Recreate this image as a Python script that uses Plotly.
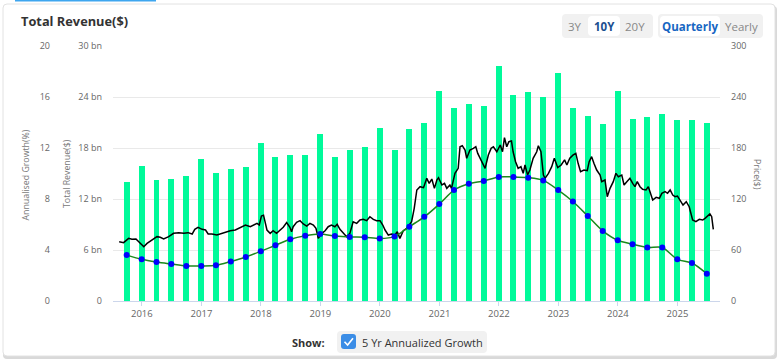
import plotly.graph_objects as go

W, H = 780, 363

# ---------------- data ----------------
quarter_ends = []
for yr in range(2015, 2026):
    for md in ["03-31", "06-30", "09-30", "12-31"]:
        d = f"{yr}-{md}"
        if "2015-09-30" <= d <= "2025-06-30":
            quarter_ends.append(d)

revenue_bn = [14.0, 15.9, 14.2, 14.4, 14.7, 16.7, 15.1, 15.5, 15.8, 18.6,
              16.9, 17.2, 17.2, 19.6, 17.0, 17.8, 18.1, 20.4, 17.8, 20.2,
              21.0, 24.7, 22.7, 23.2, 22.9, 27.6, 24.2, 24.6, 24.0, 26.8,
              22.7, 21.8, 20.8, 24.7, 21.4, 21.6, 22.0, 21.3, 21.3, 21.0]

growth_pct = [3.6, 3.27, 3.06, 2.9, 2.75, 2.75, 2.8, 3.1, 3.45, 3.9,
              4.37, 4.84, 5.12, 5.25, 5.1, 5.02, 5.0, 4.9, 5.05, 5.83,
              6.6, 7.6, 8.7, 9.2, 9.41, 9.73, 9.73, 9.67, 9.46, 8.7,
              7.8, 6.67, 5.5, 4.76, 4.45, 4.2, 4.2, 3.27, 2.98, 2.14]

price_dates = [
    "2015-08-15", "2015-09-11", "2015-10-12", "2015-11-01", "2015-11-26", "2015-12-12",
    "2016-01-13", "2016-02-02", "2016-03-03", "2016-04-03", "2016-04-23", "2016-05-14",
    "2016-06-14", "2016-07-14", "2016-08-15", "2016-09-14", "2016-10-11", "2016-11-05",
    "2016-11-21", "2016-12-11", "2017-01-05", "2017-01-26", "2017-02-11", "2017-03-06",
    "2017-04-06", "2017-04-26", "2017-05-27", "2017-06-27", "2017-07-28", "2017-08-28",
    "2017-09-28", "2017-10-28", "2017-11-18", "2017-12-08", "2017-12-22", "2018-01-04",
    "2018-01-17", "2018-02-07", "2018-02-27", "2018-03-17", "2018-04-07", "2018-04-27",
    "2018-05-18", "2018-06-08", "2018-06-28", "2018-07-08", "2018-07-18", "2018-08-08",
    "2018-08-29", "2018-09-18", "2018-10-09", "2018-10-29", "2018-11-19", "2018-12-05",
    "2018-12-19", "2019-01-10", "2019-01-30", "2019-02-18", "2019-03-10", "2019-03-31",
    "2019-04-14", "2019-05-01", "2019-05-21", "2019-06-11", "2019-07-01", "2019-07-21",
    "2019-08-12", "2019-09-01", "2019-09-21", "2019-10-12", "2019-11-01", "2019-11-22",
    "2019-12-12", "2020-01-02", "2020-01-19", "2020-02-02", "2020-02-22", "2020-03-13",
    "2020-04-03", "2020-04-17", "2020-05-03", "2020-05-24", "2020-06-14", "2020-06-30",
    "2020-07-14", "2020-07-30", "2020-08-15", "2020-09-04", "2020-09-25", "2020-10-15",
    "2020-10-30", "2020-11-15", "2020-12-01", "2020-12-16", "2020-12-26", "2021-01-16",
    "2021-02-01", "2021-02-15", "2021-03-06", "2021-03-16", "2021-04-06", "2021-04-26",
    "2021-05-07", "2021-05-21", "2021-06-07", "2021-06-17", "2021-07-07", "2021-07-28",
    "2021-08-12", "2021-08-24", "2021-09-08", "2021-09-22", "2021-10-08", "2021-10-28",
    "2021-11-14", "2021-11-28", "2021-12-19", "2022-01-09", "2022-01-23", "2022-02-04",
    "2022-02-18", "2022-03-03", "2022-03-19", "2022-03-29", "2022-04-13", "2022-04-29",
    "2022-05-16", "2022-05-30", "2022-06-10", "2022-06-26", "2022-07-10", "2022-07-30",
    "2022-08-21", "2022-08-31", "2022-09-16", "2022-10-01", "2022-10-11", "2022-11-01",
    "2022-11-21", "2022-12-07", "2022-12-28", "2023-01-18", "2023-02-08", "2023-02-22",
    "2023-03-12", "2023-04-02", "2023-04-18", "2023-05-02", "2023-05-17", "2023-06-07",
    "2023-06-27", "2023-07-09", "2023-07-24", "2023-08-07", "2023-08-24", "2023-09-14",
    "2023-09-24", "2023-10-14", "2023-10-28", "2023-11-14", "2023-12-04", "2023-12-20",
    "2024-01-04", "2024-01-25", "2024-02-08", "2024-02-25", "2024-03-15", "2024-04-01",
    "2024-04-15", "2024-04-29", "2024-05-16", "2024-06-01", "2024-06-22", "2024-07-06",
    "2024-07-21", "2024-08-02", "2024-08-23", "2024-09-12", "2024-09-27", "2024-10-17",
    "2024-11-01", "2024-11-17", "2024-12-03", "2024-12-17", "2025-01-01", "2025-01-18",
    "2025-02-04", "2025-02-24", "2025-03-14", "2025-04-04", "2025-04-24", "2025-05-15",
    "2025-06-05", "2025-06-19", "2025-07-09", "2025-07-19", "2025-07-30", "2025-08-09",
]
price_values = [
    69.8, 68.6, 73.7, 72.6, 73.0, 69.8,
    63.9, 67.8, 71.8, 75.7, 74.9, 73.0,
    75.7, 79.6, 80.4, 79.6, 80.4, 78.8,
    84.3, 86.7, 84.3, 83.5, 78.8, 78.8,
    77.6, 78.8, 80.4, 82.7, 83.5, 86.7,
    89.4, 87.4, 89.4, 91.4, 89.4, 100.0,
    101.0, 83.5, 79.6, 82.7, 79.6, 83.5,
    86.7, 92.2, 86.7, 81.5, 87.4, 92.5,
    94.5, 90.6, 88.2, 91.4, 89.4, 85.5,
    73.7, 79.6, 82.7, 87.4, 89.4, 87.4,
    90.2, 84.3, 80.4, 75.7, 79.6, 93.3,
    91.4, 95.3, 96.1, 94.5, 99.2, 96.1,
    94.5, 94.5, 89.4, 83.5, 77.6, 78.8,
    77.6, 81.5, 73.7, 82.7, 85.5, 89.4,
    93.3, 109.0, 130.6, 134.5, 133.3, 144.3,
    138.4, 143.5, 132.5, 142.4, 145.1, 136.5,
    138.4, 132.5, 136.5, 132.5, 150.2, 156.1,
    181.5, 182.7, 177.6, 167.9, 177.6, 179.6,
    181.5, 173.7, 167.9, 160.8, 156.1, 171.8,
    179.6, 181.5, 175.6, 183.5, 175.6, 192.1,
    181.5, 187.4, 188.2, 175.6, 163.9, 156.1,
    158.0, 150.2, 160.0, 148.2, 154.1, 167.9,
    175.6, 182.7, 175.6, 148.2, 144.3, 150.2,
    158.0, 167.9, 156.9, 160.0, 166.0, 160.0,
    167.9, 171.8, 173.7, 162.0, 152.2, 154.1,
    153.3, 163.9, 169.8, 162.0, 154.1, 148.2,
    140.4, 142.4, 122.7, 132.5, 140.4, 150.2,
    146.2, 148.2, 136.5, 140.4, 144.3, 138.4,
    134.5, 140.4, 134.5, 131.4, 130.6, 134.5,
    126.7, 118.8, 122.0, 120.8, 126.7, 128.6,
    126.7, 130.6, 124.7, 122.7, 123.5, 118.8,
    112.9, 116.8, 110.9, 95.3, 93.3, 96.1,
    95.3, 97.3, 100.0, 102.4, 99.2, 84.3,
]

rev_ticks = [0, 6, 12, 18, 24, 30]
rev_ticktext = ["0", "6 bn", "12 bn", "18 bn", "24 bn", "30 bn"]
growth_ticks = [0, 4, 8, 12, 16, 20]
price_ticks = [0, 60, 120, 180, 240, 300]

# ---------------- helpers (pixel -> paper) ----------------
def px(x):
    return x / W

def py(y):
    return 1 - y / H

def rrect(x0, y0, x1, y1, r):
    X0, X1 = px(x0), px(x1)
    Y0, Y1 = py(y0), py(y1)
    rx, ry = r / W, r / H
    return (f"M{X0+rx},{Y0} L{X1-rx},{Y0} Q{X1},{Y0} {X1},{Y0-ry} "
            f"L{X1},{Y1+ry} Q{X1},{Y1} {X1-rx},{Y1} L{X0+rx},{Y1} "
            f"Q{X0},{Y1} {X0},{Y1+ry} L{X0},{Y0-ry} Q{X0},{Y0} {X0+rx},{Y0} Z")

PL, PR, PT, PB = 113, 720, 46, 301
FONT = "Open Sans"
TICKC = "#666666"

fig = go.Figure()

fig.add_trace(go.Bar(
    x=quarter_ends, y=[v * 1e9 for v in revenue_bn],
    marker=dict(color="#00fa9a", line=dict(width=0)),
    width=36.8 * 86400000, name="Total Revenue($)",
    xaxis="x", yaxis="y",
))
fig.add_trace(go.Scatter(
    x=price_dates, y=price_values, mode="lines",
    line=dict(color="#000000", width=1.5), name="Price($)",
    xaxis="x", yaxis="y2",
))
fig.add_trace(go.Scatter(
    x=quarter_ends, y=growth_pct, mode="lines+markers",
    line=dict(color="#1a8a1a", width=1.5, shape="spline", smoothing=0.8),
    marker=dict(color="#0000ff", size=6, symbol="circle"),
    name="5 Yr Annualized Growth",
    xaxis="x", yaxis="y3",
))

shapes = []
# card shadow + card
shapes.append(dict(type="path", xref="paper", yref="paper", path=rrect(3, 6, 777, 359, 4),
                   fillcolor="#d9d9d9", line=dict(width=0), layer="below"))
shapes.append(dict(type="path", xref="paper", yref="paper", path=rrect(3, 4, 775, 356, 4),
                   fillcolor="#ffffff", line=dict(color="#e2e2e2", width=1), layer="below"))
# top blue tab
shapes.append(dict(type="rect", xref="paper", yref="paper", x0=px(15), x1=px(156),
                   y0=py(1.6), y1=py(0), fillcolor="#3ea6ef", line=dict(width=0), layer="below"))
# button groups
shapes.append(dict(type="path", xref="paper", yref="paper", path=rrect(562, 14, 653, 38, 4),
                   fillcolor="#f1f1f1", line=dict(width=0), layer="below"))
shapes.append(dict(type="path", xref="paper", yref="paper", path=rrect(588, 16, 620, 36, 4),
                   fillcolor="#ffffff", line=dict(width=0), layer="below"))
shapes.append(dict(type="path", xref="paper", yref="paper", path=rrect(658, 14, 763, 38, 4),
                   fillcolor="#f1f1f1", line=dict(width=0), layer="below"))
shapes.append(dict(type="path", xref="paper", yref="paper", path=rrect(660, 16, 720, 36, 4),
                   fillcolor="#ffffff", line=dict(width=0), layer="below"))
# show box
shapes.append(dict(type="path", xref="paper", yref="paper", path=rrect(337, 331, 487, 353, 4),
                   fillcolor="#f1f1f1", line=dict(width=0), layer="below"))
shapes.append(dict(type="path", xref="paper", yref="paper", path=rrect(341, 334, 356, 349, 3),
                   fillcolor="#3b8de6", line=dict(width=0), layer="above"))
shapes.append(dict(type="path", xref="paper", yref="paper",
                   path=f"M{px(344.5)},{py(341.8)} L{px(347.6)},{py(345)} L{px(353)},{py(338.2)}",
                   line=dict(color="#ffffff", width=1.6), layer="above"))

annotations = [
    dict(text="<b>Total Revenue($)</b>", x=px(19), y=py(21), xanchor="left", yanchor="middle",
         font=dict(family=FONT, size=12.8, color="#333333")),
    dict(text="3Y", x=px(575), y=py(26.5), xanchor="center", yanchor="middle",
         font=dict(family=FONT, size=11.5, color="#888888")),
    dict(text="<b>10Y</b>", x=px(604), y=py(26.5), xanchor="center", yanchor="middle",
         font=dict(family=FONT, size=11.5, color="#1b4f8f")),
    dict(text="20Y", x=px(635), y=py(26.5), xanchor="center", yanchor="middle",
         font=dict(family=FONT, size=11.5, color="#888888")),
    dict(text="<b>Quarterly</b>", x=px(690), y=py(26.5), xanchor="center", yanchor="middle",
         font=dict(family=FONT, size=11.5, color="#1766c2")),
    dict(text="Yearly", x=px(741), y=py(26.5), xanchor="center", yanchor="middle",
         font=dict(family=FONT, size=11.5, color="#888888")),
    dict(text="Annualised Growth(%)", x=px(25.5), y=py(175), xanchor="center", yanchor="middle",
         textangle=-90, font=dict(family=FONT, size=8.8, color="#777777")),
    dict(text="Total Revenue($)", x=px(67), y=py(174), xanchor="center", yanchor="middle",
         textangle=-90, font=dict(family=FONT, size=8.8, color="#777777")),
    dict(text="Price($)", x=px(757), y=py(174), xanchor="center", yanchor="middle",
         textangle=90, font=dict(family=FONT, size=8.8, color="#777777")),
    dict(text="<b>Show:</b>", x=px(327), y=py(342), xanchor="right", yanchor="middle",
         font=dict(family=FONT, size=11, color="#333333")),
    dict(text="5 Yr Annualized Growth", x=px(360), y=py(342), xanchor="left", yanchor="middle",
         font=dict(family=FONT, size=11, color="#333333")),
]
for a in annotations:
    a.update(xref="paper", yref="paper", showarrow=False)

dom_x = [px(PL), px(PR)]
dom_y = [py(PB), py(PT)]

fig.update_layout(
    width=W, height=H, template="none",
    margin=dict(l=0, r=0, t=0, b=0, pad=0),
    paper_bgcolor="#ffffff", plot_bgcolor="rgba(0,0,0,0)",
    showlegend=False, hovermode=False, bargap=0,
    shapes=shapes, annotations=annotations,
    xaxis=dict(
        domain=dom_x, type="date", range=["2015-07-08", "2025-09-19"],
        dtick="M12", tick0="2016-01-01", tickformat="%Y",
        showgrid=False, showline=True, linecolor="#ccd6eb", linewidth=1,
        ticks="outside", ticklen=4, tickcolor="#ccd6eb",
        tickfont=dict(family=FONT, size=9.5, color=TICKC), zeroline=False,
        automargin=False, fixedrange=True,
    ),
    yaxis=dict(
        domain=dom_y, range=[0, 30e9], tickvals=[v * 1e9 for v in rev_ticks],
        ticktext=rev_ticktext, showgrid=True, gridcolor="#e9e9e9", gridwidth=1,
        zeroline=False, showline=False, ticks="", ticklabelstandoff=10,
        tickfont=dict(family=FONT, size=9, color=TICKC), automargin=False,
        fixedrange=True,
    ),
    yaxis2=dict(
        domain=dom_y, range=[0, 300], tickvals=price_ticks, overlaying="y", side="right",
        anchor="x", showgrid=False, zeroline=False, showline=False, ticks="",
        ticklabelstandoff=10, tickfont=dict(family=FONT, size=9, color=TICKC),
        automargin=False, fixedrange=True,
    ),
    yaxis3=dict(
        domain=dom_y, range=[0, 20], tickvals=growth_ticks, overlaying="y", side="left",
        anchor="free", position=px(50), showgrid=False, zeroline=False, showline=False,
        ticks="", tickfont=dict(family=FONT, size=9, color=TICKC),
        automargin=False, fixedrange=True,
    ),
)

fig.write_html("out.html", config={"displayModeBar": False},
               post_script="document.body.style.margin='0px';document.body.style.padding='0px';")
